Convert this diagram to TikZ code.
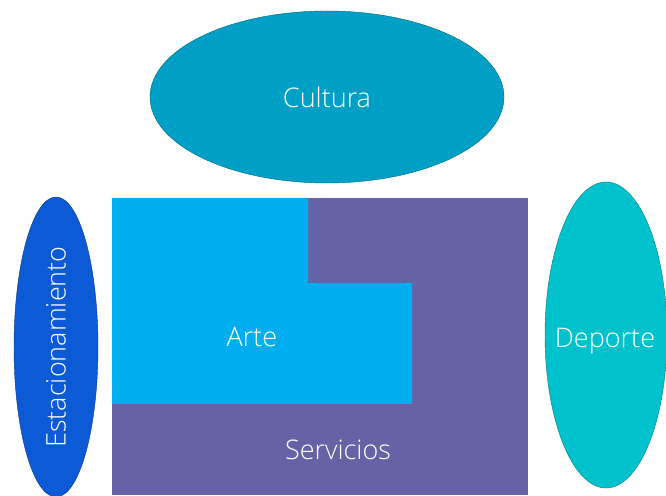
\documentclass[tikz,border=0pt]{standalone}
\usepackage{fontspec}
\setmainfont{Open Sans Light}
\usepackage{xcolor}
\usetikzlibrary{shapes.geometric}

\definecolor{cultura}{RGB}{0,160,198}
\definecolor{arte}{RGB}{0,174,239}
\definecolor{servicios}{RGB}{101,99,165}
\definecolor{estac}{RGB}{12,90,214}
\definecolor{deporte}{RGB}{0,194,204}

\begin{document}
\begin{tikzpicture}[
      x=1pt, y=1pt,
      zone/.style={ellipse, draw=black!35!#1, fill=#1, text=white, inner sep=0pt},
      lbl/.style={text=white},
      every node/.append style={font=\fontsize{27}{31}\selectfont}
    ]
      \useasboundingbox (0,0) rectangle (666,495);
      % bloque central
      \fill[servicios] (112,0) rectangle (528,297);
      \fill[arte] (112,297) -- (308,297) -- (308,212) -- (412,212) -- (412,91) -- (112,91) -- cycle;
      \node[lbl] (arte) at (252,158) {Arte};
      \node[lbl] (servicios) at (338,45) {Servicios};
      % zonas exteriores
      \node[zone=cultura, minimum width=354, minimum height=172] (cultura) at (327,398) {Cultura};
      \node[zone=estac, rotate=90, minimum width=300, minimum height=84] (estac) at (56,148) {Estacionamiento};
      \node[zone=deporte, minimum width=122, minimum height=306] (deporte) at (606,160) {};
      \node[lbl] (deptxt) at (605,154) {Deporte};
    \end{tikzpicture}
\end{document}
